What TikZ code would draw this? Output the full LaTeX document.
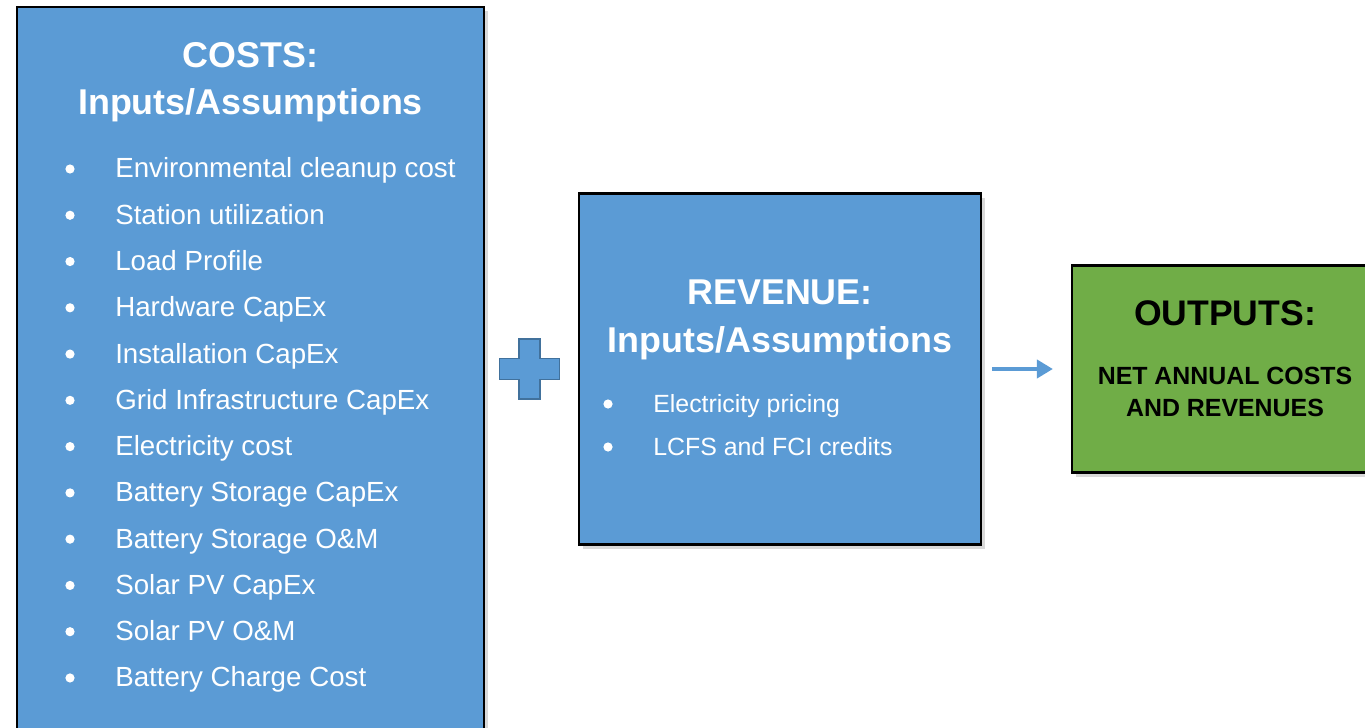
\documentclass[tikz,border=0pt]{standalone}
\usepackage{fontspec}
\setmainfont{Liberation Sans}
\usetikzlibrary{shapes,arrows.meta,positioning,calc,shadows}

\definecolor{boxblue}{HTML}{5B9BD5}
\definecolor{plusedge}{HTML}{41719C}
\definecolor{boxgreen}{HTML}{70AD47}

\begin{document}
\begin{tikzpicture}[x=0.025cm, y=-0.025cm,
  panel/.style={draw=black, line width=1.5pt, rectangle, inner sep=0pt,
    drop shadow={shadow xshift=3pt, shadow yshift=-3pt, opacity=0.3}},
  headtext/.style={font=\fontsize{25.5}{30}\selectfont\bfseries, text=white, anchor=base, inner sep=0pt},
  itemtext/.style={text=white, anchor=base west, inner sep=0pt},
  dot/.style={circle, fill=white, inner sep=0pt, minimum size=0.23cm},
  plusmark/.style={fill=boxblue, draw=plusedge, line width=1.2pt},
  flowarrow/.style={draw=boxblue, line width=2.8pt, -{Triangle[length=0.4cm, width=0.45cm]}}
]

\useasboundingbox (0,0) rectangle (1365,728);
\clip (0,0) rectangle (1365,728);

% Costs panel (runs off the bottom)
\node[panel, fill=boxblue, minimum width=11.65cm, minimum height=18.325cm] (costs) at (250.5, 373.5) {};
\node[headtext] (costshead) at (250.5, 68) {COSTS:};
\node[headtext] (costssub) at (250.5, 115) {Inputs/Assumptions};

\foreach \txt [count=\i from 0] in {Environmental cleanup cost, Station utilization, Load Profile,
    Hardware CapEx, Installation CapEx, Grid Infrastructure CapEx, Electricity cost,
    Battery Storage CapEx, Battery Storage O\&M, Solar PV CapEx, Solar PV O\&M, Battery Charge Cost} {
  \pgfmathsetmacro{\y}{178 + \i * 46.27}
  \node[dot] (cdot\i) at (70, \y - 9) {};
  \node[itemtext, font=\fontsize{19.7}{24}\selectfont] (citem\i) at (115, \y) {\txt};
}

% Plus sign
\coordinate (plus) at (529.5, 369);
\draw[plusmark, shift={(plus)}] (-10.5,-30) -- (10.5,-30) -- (10.5,-10.5) -- (30,-10.5) -- (30,10.5)
  -- (10.5,10.5) -- (10.5,30) -- (-10.5,30) -- (-10.5,10.5) -- (-30,10.5) -- (-30,-10.5)
  -- (-10.5,-10.5) -- cycle;

% Revenue panel
\node[panel, fill=boxblue, minimum width=10.05cm, minimum height=8.775cm] (rev) at (780, 369) {};
\node[headtext] (revhead) at (780, 304) {REVENUE:};
\node[headtext] (revsub) at (780, 352) {Inputs/Assumptions};

\foreach \txt [count=\i from 0] in {Electricity pricing, LCFS and FCI credits} {
  \pgfmathsetmacro{\y}{412 + \i * 43}
  \node[dot] (rdot\i) at (608, \y - 8) {};
  \node[itemtext, font=\fontsize{17.7}{22}\selectfont] (ritem\i) at (653, \y) {\txt};
}

% Outputs panel (runs off the right)
\node[panel, fill=boxgreen, minimum width=7.65cm, minimum height=5.175cm] (out) at (1225, 369) {};
\node[headtext, text=black, font=\fontsize{25.3}{30}\selectfont\bfseries] (outhead) at (1225, 325) {OUTPUTS:};
\node[align=center, font=\fontsize{17.7}{22.4}\selectfont\bfseries, inner sep=0pt] (outtext) at (1225, 392)
  {NET ANNUAL COSTS\\AND REVENUES};

% Flow arrow
\draw[flowarrow, shorten <=0.25cm, shorten >=0.45cm] (rev.east) -- (out.west);

\end{tikzpicture}
\end{document}
